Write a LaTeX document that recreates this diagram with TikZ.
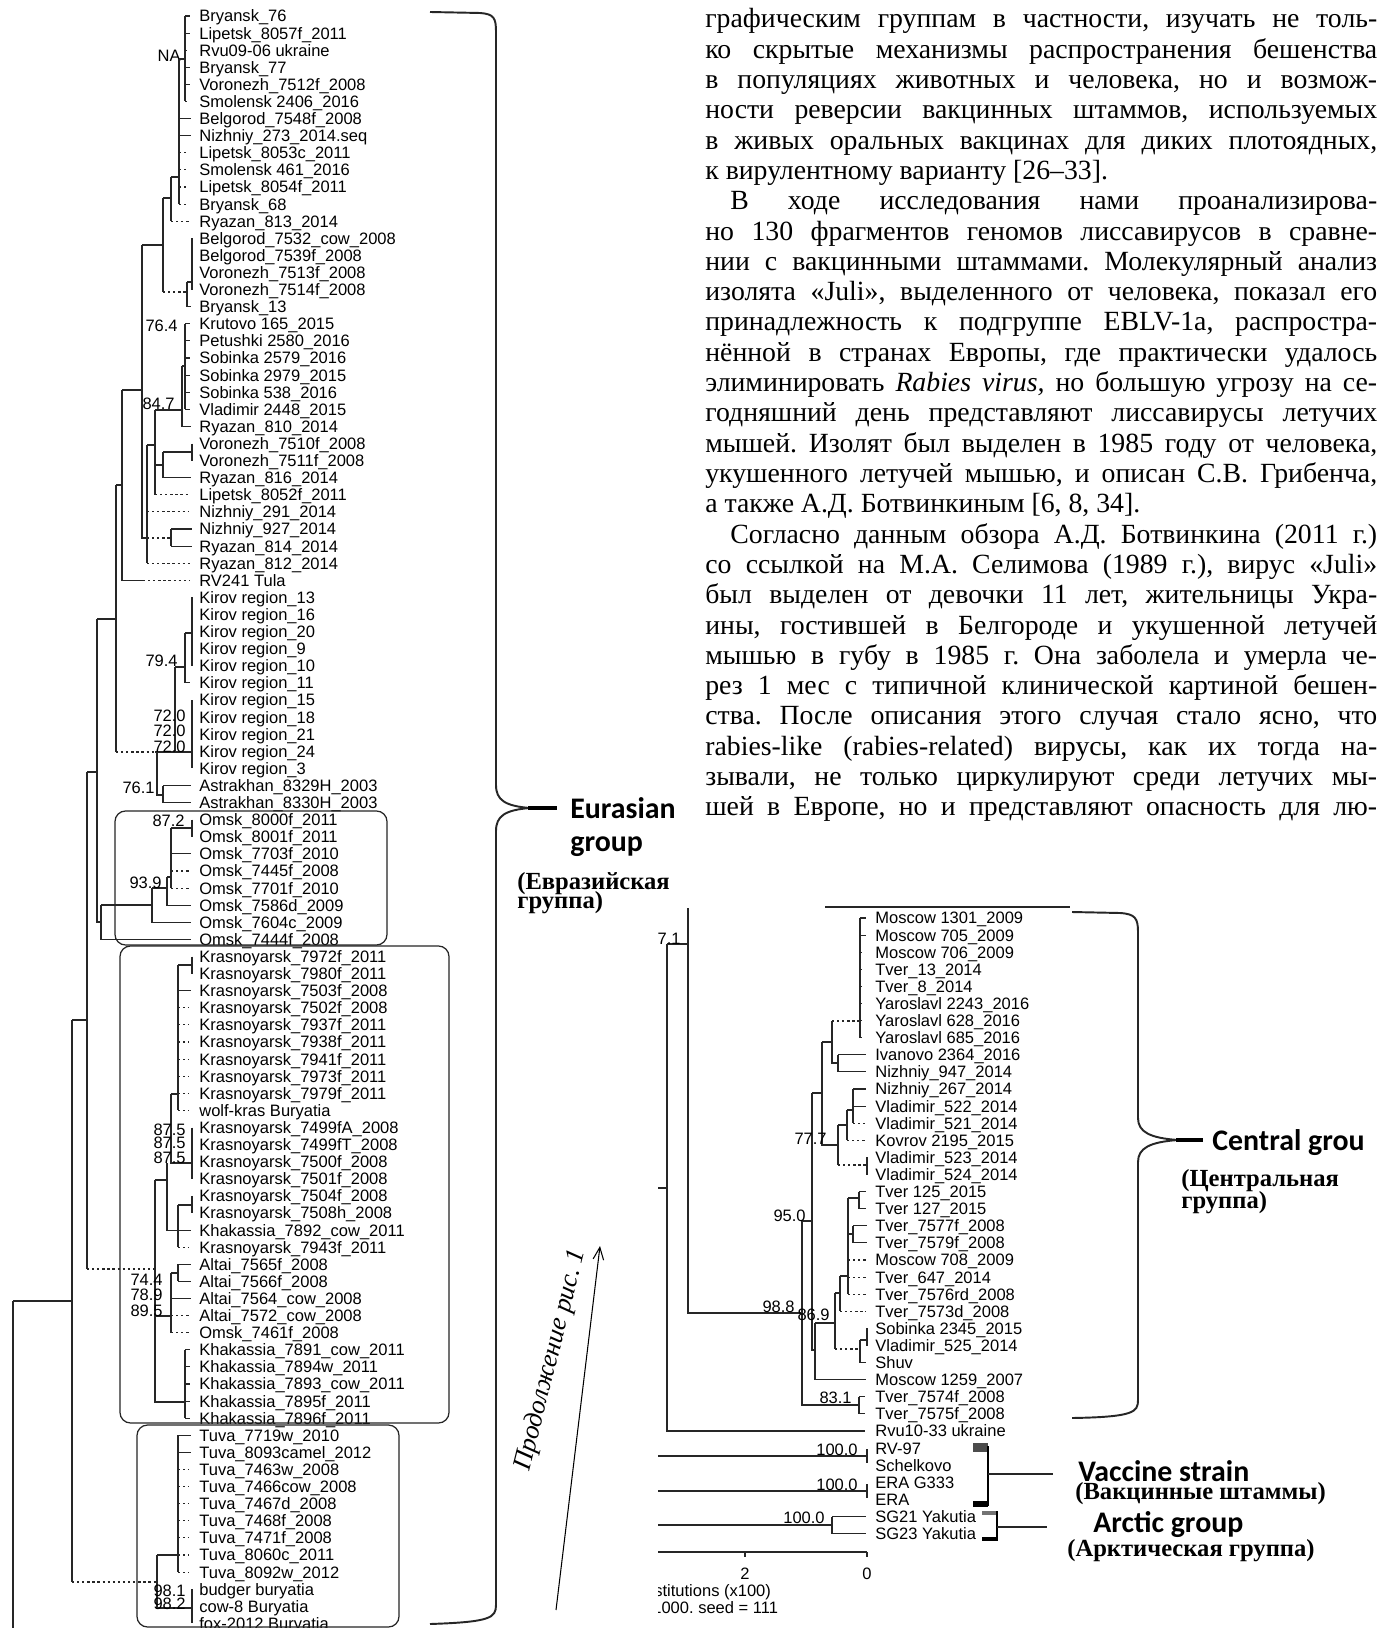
\documentclass[tikz,border=0pt]{standalone}
\usepackage{fontspec}
\setmainfont{Liberation Serif}
\newfontfamily\arialfam{Liberation Sans}
\newfontfamily\calibfam{Carlito}
\usetikzlibrary{arrows.meta}
\frenchspacing

\newcommand\leaffont{\arialfam\fontsize{9.4}{10}\selectfont}
% row positions of the two trees
\newcommand\ly[1]{16+(#1-1)*17.1}
\newcommand\ry[1]{918+(#1-1)*17.1}
% justified text line
\newcommand\jl[2][13.44cm]{\makebox[#1][s]{#2}}

\tikzset{
  br/.style={line width=0.6pt, black!85},
  dt/.style={br, dash pattern=on 1.3pt off 1.6pt},
  leaf/.style={anchor=base west, inner sep=0pt, yshift=-3.4pt, font=\leaffont},
  boot/.style={anchor=base east, inner sep=0pt, font=\leaffont},
  cladebox/.style={draw, black!85, line width=0.7pt, rounded corners=6pt},
  grp/.style={anchor=base west, inner sep=0pt, font=\calibfam\bfseries\fontsize{17}{18}\selectfont},
  grpru/.style={anchor=base west, inner sep=0pt, font=\bfseries\fontsize{14}{15}\selectfont},
  txtline/.style={anchor=base west, inner sep=0pt, font=\fontsize{15.8}{17}\selectfont},
  brace/.style={line width=1.1pt, black!85},
}

\begin{document}
\begin{tikzpicture}[x=0.02cm, y=-0.02cm]
  \fill[white] (0,0) rectangle (1377,1628);
  \useasboundingbox (0,0) rectangle (1377,1628);

  % ---------- left tree: leaves ----------
  \foreach \lab [count=\i] in {Bryansk\_76, Lipetsk\_8057f\_2011, Rvu09-06 ukraine, Bryansk\_77,
    Voronezh\_7512f\_2008, Smolensk 2406\_2016, Belgorod\_7548f\_2008, Nizhniy\_273\_2014.seq,
    Lipetsk\_8053c\_2011, Smolensk 461\_2016, Lipetsk\_8054f\_2011, Bryansk\_68, Ryazan\_813\_2014,
    Belgorod\_7532\_cow\_2008, Belgorod\_7539f\_2008, Voronezh\_7513f\_2008, Voronezh\_7514f\_2008,
    Bryansk\_13, Krutovo 165\_2015, Petushki 2580\_2016, Sobinka 2579\_2016, Sobinka 2979\_2015,
    Sobinka 538\_2016, Vladimir 2448\_2015, Ryazan\_810\_2014, Voronezh\_7510f\_2008,
    Voronezh\_7511f\_2008, Ryazan\_816\_2014, Lipetsk\_8052f\_2011, Nizhniy\_291\_2014,
    Nizhniy\_927\_2014, Ryazan\_814\_2014, Ryazan\_812\_2014, RV241 Tula, Kirov region\_13,
    Kirov region\_16, Kirov region\_20, Kirov region\_9, Kirov region\_10, Kirov region\_11,
    Kirov region\_15, Kirov region\_18, Kirov region\_21, Kirov region\_24, Kirov region\_3,
    Astrakhan\_8329H\_2003, Astrakhan\_8330H\_2003, Omsk\_8000f\_2011, Omsk\_8001f\_2011,
    Omsk\_7703f\_2010, Omsk\_7445f\_2008, Omsk\_7701f\_2010, Omsk\_7586d\_2009, Omsk\_7604c\_2009,
    Omsk\_7444f\_2008, Krasnoyarsk\_7972f\_2011, Krasnoyarsk\_7980f\_2011, Krasnoyarsk\_7503f\_2008,
    Krasnoyarsk\_7502f\_2008, Krasnoyarsk\_7937f\_2011, Krasnoyarsk\_7938f\_2011,
    Krasnoyarsk\_7941f\_2011, Krasnoyarsk\_7973f\_2011, Krasnoyarsk\_7979f\_2011, wolf-kras Buryatia,
    Krasnoyarsk\_7499fA\_2008, Krasnoyarsk\_7499fT\_2008, Krasnoyarsk\_7500f\_2008,
    Krasnoyarsk\_7501f\_2008, Krasnoyarsk\_7504f\_2008, Krasnoyarsk\_7508h\_2008,
    Khakassia\_7892\_cow\_2011, Krasnoyarsk\_7943f\_2011, Altai\_7565f\_2008, Altai\_7566f\_2008,
    Altai\_7564\_cow\_2008, Altai\_7572\_cow\_2008, Omsk\_7461f\_2008, Khakassia\_7891\_cow\_2011,
    Khakassia\_7894w\_2011, Khakassia\_7893\_cow\_2011, Khakassia\_7895f\_2011, Khakassia\_7896f\_2011,
    Tuva\_7719w\_2010, Tuva\_8093camel\_2012, Tuva\_7463w\_2008, Tuva\_7466cow\_2008, Tuva\_7467d\_2008,
    Tuva\_7468f\_2008, Tuva\_7471f\_2008, Tuva\_8060c\_2011, Tuva\_8092w\_2012, budger buryatia,
    cow-8 Buryatia, fox-2012 Buryatia}
    \node[leaf] (L\i) at (199,{\ly{\i}}) {\lab};

  % clade boxes
  \draw[cladebox] (115,811) rectangle (387,945);
  \draw[cladebox] (120,946) rectangle (449,1423);
  \draw[cladebox] (137,1425) rectangle (399,1627);

  % ---------- left tree: branches ----------
  % Bryansk / Lipetsk
  \draw[br] (185,{\ly{1}}) -- (185,{\ly{6}});
  \foreach \i in {1,2,4,5} \draw[br] (185,{\ly{\i}}) -- (190,{\ly{\i}});
  \foreach \i in {3,6} \draw[dt] (185,{\ly{\i}}) -- (190,{\ly{\i}});
  \node[boot] at (181,62) {NA};
  \draw[br] (179,59) -- (185,59);
  \draw[br] (179,59) -- (179,{\ly{12}});
  \foreach \i in {7,8} \draw[br] (179,{\ly{\i}}) -- (191,{\ly{\i}});
  \foreach \i in {9,...,12} \draw[dt] (179,{\ly{\i}}) -- (189,{\ly{\i}});
  \draw[br] (171,177) -- (179,177);
  \draw[br] (171,177) -- (171,{\ly{13}});
  \draw[dt] (171,{\ly{13}}) -- (189,{\ly{13}});
  \draw[br] (163,198) -- (171,198);
  \draw[br] (163,198) -- (163,292);
  \draw[dt] (163,292) -- (187,292);
  % Belgorod
  \draw[br] (192,{\ly{14}}) -- (192,{\ly{17}});
  \draw[br] (187,282) -- (192,282);
  \draw[br] (187,282) -- (187,{\ly{18}}) -- (191,{\ly{18}});
  \draw[br] (142,245) -- (163,245);
  \draw[br] (142,245) -- (142,538) -- (147,538);
  % Krutovo / Sobinka
  \draw[br] (185,{\ly{19}}) -- (185,{\ly{24}});
  \foreach \i in {19,...,24} \draw[br] (185,{\ly{\i}}) -- (190,{\ly{\i}});
  \node[boot] at (178,332) {76.4};
  \draw[br] (182,366) -- (185,366);
  \draw[br] (182,366) -- (182,{\ly{25}}) -- (191,{\ly{25}});
  \draw[br] (155,410) -- (182,410);
  \node[boot] at (175,410) {84.7};
  \draw[br] (155,410) -- (155,{\ly{29}});
  \draw[dt] (155,{\ly{29}}) -- (189,{\ly{29}});
  \draw[br] (155,465) -- (163,465);
  \draw[br] (163,452) -- (163,{\ly{28}}) -- (191,{\ly{28}});
  \draw[br] (163,452) -- (192,452);
  \draw[br] (192,{\ly{26}}) -- (192,{\ly{27}});
  \draw[br] (147,445) -- (155,445);
  \draw[br] (147,445) -- (147,{\ly{33}});
  \draw[dt] (147,{\ly{30}}) -- (189,{\ly{30}});
  \draw[dt] (147,538) -- (171,538);
  \draw[br] (171,{\ly{31}}) -- (171,{\ly{32}});
  \foreach \i in {31,32} \draw[br] (171,{\ly{\i}}) -- (192,{\ly{\i}});
  \draw[dt] (147,{\ly{33}}) -- (191,{\ly{33}});
  \draw[br] (122,390) -- (142,390);
  \draw[br] (122,390) -- (122,{\ly{34}}) -- (143,{\ly{34}});
  \draw[dt] (143,{\ly{34}}) -- (189,{\ly{34}});
  \draw[br] (116,485) -- (122,485);
  \draw[br] (116,485) -- (116,752);
  % Kirov / Astrakhan
  \draw[br] (192,{\ly{35}}) -- (192,{\ly{39}});
  \draw[br] (185,633) -- (192,633);
  \draw[br] (185,633) -- (185,{\ly{40}}) -- (190,{\ly{40}});
  \draw[br] (175,667) -- (185,667);
  \node[boot] at (178,666) {79.4};
  \draw[br] (175,667) -- (175,752);
  \draw[br] (192,{\ly{41}}) -- (192,{\ly{45}});
  \draw[dt] (116,752) -- (155,752);
  \draw[br] (155,752) -- (192,752);
  \foreach \yy in {721,736,752} \node[boot] at (186,\yy) {72.0};
  \draw[br] (157,752) -- (157,795) -- (163,795);
  \draw[br] (163,{\ly{46}}) -- (163,{\ly{47}});
  \foreach \i in {46,47} \draw[br] (163,{\ly{\i}}) -- (191,{\ly{\i}});
  \node[boot] at (155,793) {76.1};
  \draw[br] (97,619) -- (116,619);
  \draw[br] (97,619) -- (97,922) -- (101,922);
  % Omsk
  \draw[br] (192,{\ly{48}}) -- (192,{\ly{49}});
  \draw[br] (171,828) -- (192,828);
  \node[boot] at (185,826) {87.2};
  \draw[br] (171,828) -- (171,{\ly{52}});
  \draw[br] (171,{\ly{50}}) -- (191,{\ly{50}});
  \foreach \i in {51,52} \draw[dt] (171,{\ly{\i}}) -- (189,{\ly{\i}});
  \draw[br] (167,877) -- (171,877);
  \draw[br] (167,877) -- (167,{\ly{53}}) -- (191,{\ly{53}});
  \draw[br] (152,888) -- (167,888);
  \node[boot] at (162,888) {93.9};
  \draw[br] (152,888) -- (152,{\ly{54}}) -- (191,{\ly{54}});
  \draw[br] (101,905) -- (152,905);
  \draw[br] (101,905) -- (101,{\ly{55}}) -- (191,{\ly{55}});
  \draw[br] (87,772) -- (97,772);
  \draw[br] (87,772) -- (87,1269);
  % Krasnoyarsk
  \draw[br] (192,{\ly{56}}) -- (192,{\ly{57}});
  \draw[br] (178,965) -- (192,965);
  \draw[br] (178,965) -- (178,{\ly{65}});
  \draw[br] (178,{\ly{58}}) -- (191,{\ly{58}});
  \foreach \i in {59,...,65} \draw[dt] (178,{\ly{\i}}) -- (189,{\ly{\i}});
  \draw[br] (171,1094) -- (178,1094);
  \draw[br] (171,1094) -- (171,1163) -- (192,1163);
  \draw[br] (192,{\ly{66}}) -- (192,{\ly{69}});
  \foreach \yy in {1135,1148,1163} \node[boot] at (186,\yy) {87.5};
  \draw[br] (167,1163) -- (167,{\ly{72}}) -- (191,{\ly{72}});
  \draw[br] (192,{\ly{70}}) -- (192,{\ly{71}});
  \draw[br] (178,1205) -- (192,1205);
  \draw[br] (178,1205) -- (178,{\ly{73}});
  \draw[dt] (178,{\ly{73}}) -- (189,{\ly{73}});
  \draw[br] (155,1180) -- (167,1180);
  \draw[br] (155,1180) -- (155,1402) -- (185,1402);
  \draw[dt] (87,1269) -- (155,1269);
  % Altai
  \draw[br] (178,{\ly{74}}) -- (178,{\ly{75}});
  \foreach \i in {74,75} \draw[br] (178,{\ly{\i}}) -- (191,{\ly{\i}});
  \draw[br] (171,1273) -- (178,1273);
  \draw[br] (171,1273) -- (171,{\ly{78}});
  \draw[br] (171,{\ly{76}}) -- (191,{\ly{76}});
  \foreach \i in {77,78} \draw[dt] (171,{\ly{\i}}) -- (189,{\ly{\i}});
  \draw[br] (155,1316) -- (171,1316);
  \node[boot] at (163,1285) {74.4};
  \node[boot] at (163,1300) {78.9};
  \node[boot] at (163,1316) {89.5};
  % Khakassia
  \draw[br] (185,{\ly{79}}) -- (185,{\ly{83}});
  \foreach \i in {79,...,83} \draw[br] (185,{\ly{\i}}) -- (190,{\ly{\i}});
  \draw[br] (72,1020) -- (87,1020);
  \draw[br] (72,1020) -- (72,1582);
  % Tuva / Buryatia
  \draw[br] (178,{\ly{84}}) -- (178,{\ly{92}});
  \foreach \i in {84,85} \draw[br] (178,{\ly{\i}}) -- (191,{\ly{\i}});
  \foreach \i in {86,...,92} \draw[dt] (178,{\ly{\i}}) -- (189,{\ly{\i}});
  \draw[br] (157,1555) -- (178,1555);
  \draw[br] (157,1555) -- (157,1608) -- (192,1608);
  \draw[br] (192,{\ly{93}}) -- (192,{\ly{95}});
  \node[boot] at (186,1596) {98.1};
  \node[boot] at (186,1609) {98.2};
  \draw[dt] (72,1582) -- (157,1582);
  % root
  \draw[br] (13,1301) -- (72,1301);
  \draw[br] (13,1301) -- (13,1628);

  % Eurasian brace
  \draw[brace] (430,12) -- (480,13) .. controls (494,14) and (496,18) .. (496,32)
    -- (496,785) .. controls (496,800) and (505,806) .. (530,808)
    .. controls (505,810) and (496,816) .. (496,831)
    -- (496,1605) .. controls (496,1618) and (490,1622) .. (430,1624);
  \draw[line width=2pt] (528,808) -- (557,808);
  \node[grp] (eur) at (570,818) {Eurasian};
  \node[grp] (eurg) at (570,851) {group};
  \node[grpru] (eurru) at (517,889) {(Евразийская};
  \node[grpru] (eurru2) at (517,908) {группа)};

  % continuation arrow
  \coordinate (arrS) at (556,1610);
  \coordinate (arrE) at (600,1246);
  \draw[line width=0.6pt, -{Straight Barb[length=7pt, width=6pt]}] (arrS) -- (arrE);
  \node[font=\itshape\fontsize{15}{16}\selectfont, rotate=76, inner sep=0pt] (cont) at (551,1360) {Продолжение рис. 1};

  % ---------- right tree: leaves ----------
  \foreach \lab [count=\i] in {Moscow 1301\_2009, Moscow 705\_2009, Moscow 706\_2009, Tver\_13\_2014,
    Tver\_8\_2014, Yaroslavl 2243\_2016, Yaroslavl 628\_2016, Yaroslavl 685\_2016, Ivanovo 2364\_2016,
    Nizhniy\_947\_2014, Nizhniy\_267\_2014, Vladimir\_522\_2014, Vladimir\_521\_2014, Kovrov 2195\_2015,
    Vladimir\_523\_2014, Vladimir\_524\_2014, Tver 125\_2015, Tver 127\_2015, Tver\_7577f\_2008,
    Tver\_7579f\_2008, Moscow 708\_2009, Tver\_647\_2014, Tver\_7576rd\_2008, Tver\_7573d\_2008,
    Sobinka 2345\_2015, Vladimir\_525\_2014, Shuv, Moscow 1259\_2007, Tver\_7574f\_2008,
    Tver\_7575f\_2008, Rvu10-33 ukraine, RV-97, Schelkovo, ERA G333, ERA, SG21 Yakutia, SG23 Yakutia}
    \node[leaf] (R\i) at (875,{\ry{\i}}) {\lab};

  % ---------- right tree: branches ----------
  \draw[br] (825,907) -- (1070,907);
  \draw[br] (688,908) -- (688,1313) -- (802,1313);
  \draw[br] (667,944) -- (688,944);
  \node[boot] at (681,944) {7.1};
  \draw[br] (658,1188) -- (667,1188);
  \draw[br] (667,944) -- (667,1431) -- (865,1431);
  \node[boot] at (795,1312) {98.8};
  \draw[br] (802,1221) -- (802,1405) -- (859,1405);
  \draw[br] (802,1221) -- (812,1221);
  \node[boot] at (806,1221) {95.0};
  \draw[br] (859,{\ry{29}}) -- (859,{\ry{30}});
  \foreach \i in {29,30} \draw[br] (859,{\ry{\i}}) -- (865,{\ry{\i}});
  \node[boot] at (852,1403) {83.1};
  \draw[br] (812,1093) -- (812,1350) -- (815,1350);
  \draw[br] (812,1093) -- (822,1093);
  % Moscow / Yaroslavl
  \draw[br] (822,1042) -- (822,1145) -- (838,1145);
  \draw[br] (822,1042) -- (832,1042);
  \draw[br] (832,1021) -- (832,1063) -- (838,1063);
  \draw[br] (838,{\ry{9}}) -- (838,{\ry{10}});
  \foreach \i in {9,10} \draw[br] (838,{\ry{\i}}) -- (866,{\ry{\i}});
  \draw[dt] (832,1021) -- (860,1021);
  \draw[br] (860,{\ry{1}}) -- (860,{\ry{8}});
  \foreach \i in {1,2} \draw[br] (860,{\ry{\i}}) -- (866,{\ry{\i}});
  \foreach \i in {3,...,8} \draw[br] (860,{\ry{\i}}) -- (862,{\ry{\i}});
  % Vladimir / Kovrov
  \node[boot] at (827,1144) {77.7};
  \draw[br] (838,1125) -- (838,1165);
  \draw[br] (838,1125) -- (847,1125);
  \draw[br] (847,1110) -- (847,{\ry{14}});
  \draw[dt] (847,{\ry{14}}) -- (866,{\ry{14}});
  \draw[br] (847,1110) -- (853,1110);
  \draw[br] (853,{\ry{11}}) -- (853,{\ry{13}});
  \foreach \i in {11,12} \draw[br] (853,{\ry{\i}}) -- (866,{\ry{\i}});
  \draw[dt] (853,{\ry{13}}) -- (866,{\ry{13}});
  \draw[dt] (838,1165) -- (867,1165);
  \draw[br] (867,{\ry{15}}) -- (867,{\ry{16}});
  % Tver
  \draw[br] (815,1323) -- (815,{\ry{28}}) -- (866,{\ry{28}});
  \node[boot] at (830,1320) {86.9};
  \draw[br] (815,1323) -- (835,1323);
  \draw[br] (835,1293) -- (835,1349);
  \draw[br] (835,1293) -- (840,1293);
  \draw[dt] (835,1349) -- (860,1349);
  \draw[br] (860,1340) -- (860,{\ry{27}}) -- (866,{\ry{27}});
  \draw[br] (860,1340) -- (867,1340);
  \draw[br] (867,{\ry{25}}) -- (867,{\ry{26}});
  \draw[br] (840,1276) -- (840,{\ry{24}});
  \draw[dt] (840,{\ry{24}}) -- (866,{\ry{24}});
  \draw[br] (840,1276) -- (848,1276);
  \draw[br] (848,1198) -- (848,{\ry{23}});
  \foreach \i in {21,22,23} \draw[dt] (848,{\ry{\i}}) -- (866,{\ry{\i}});
  \draw[br] (848,1198) -- (859,1198);
  \draw[br] (859,{\ry{17}}) -- (859,{\ry{18}});
  \foreach \i in {17,18} \draw[br] (859,{\ry{\i}}) -- (866,{\ry{\i}});
  \draw[br] (848,1234) -- (853,1234);
  \draw[br] (853,{\ry{19}}) -- (853,{\ry{20}});
  \foreach \i in {19,20} \draw[br] (853,{\ry{\i}}) -- (867,{\ry{\i}});
  % vaccine and arctic strains
  \draw[br] (658,1456) -- (867,1456);
  \draw[br] (867,1449) -- (867,1463);
  \node[boot] at (858,1455) {100.0};
  \draw[br] (658,1491) -- (867,1491);
  \draw[br] (867,1484) -- (867,1498);
  \node[boot] at (858,1490) {100.0};
  \draw[br] (658,1525) -- (832,1525);
  \draw[br] (832,{\ry{36}}) -- (832,{\ry{37}});
  \foreach \i in {36,37} \draw[br] (832,{\ry{\i}}) -- (866,{\ry{\i}});
  \node[boot] at (825,1523) {100.0};
  % scale axis
  \draw[br] (658,1552) -- (867,1552);
  \draw[br] (745,1552) -- (745,1557);
  \draw[br] (867,1552) -- (867,1557);
  \node[anchor=base, inner sep=0pt, font=\leaffont] (ax2) at (745,1579) {2};
  \node[anchor=base, inner sep=0pt, font=\leaffont] (ax0) at (867,1579) {0};
  \begin{scope}
    \clip (658,1580) rectangle (950,1625);
    \node[anchor=base west, inner sep=0pt, font=\leaffont] (ax3) at (654,1596) {stitutions (x100)};
    \node[anchor=base west, inner sep=0pt, font=\leaffont] (ax4) at (652,1613) {1000. seed = 111};
  \end{scope}

  % Central brace
  \draw[brace] (1072,912) -- (1120,913) .. controls (1135,914) and (1138,918) .. (1138,932)
    -- (1138,1118) .. controls (1138,1132) and (1150,1138) .. (1178,1140)
    .. controls (1150,1142) and (1138,1148) .. (1138,1162)
    -- (1138,1400) .. controls (1138,1412) and (1134,1417) .. (1072,1418);
  \draw[line width=2pt] (1176,1140) -- (1203,1140);
  \node[grp] (cen) at (1212,1150) {Central grou};
  \node[grpru] (cenru) at (1181,1186) {(Центральная};
  \node[grpru] (cenru2) at (1181,1208) {группа)};

  % vaccine bracket
  \fill[black!70] (973,1443) rectangle (988,1452);
  \draw[line width=1.3pt] (988,1446) -- (988,1506);
  \fill[black] (973,1501) rectangle (988,1507);
  \coordinate (vacc) at (1053,1474);
  \draw[br] (988,1474) -- (vacc);
  \node[grp] (vac) at (1078,1481) {Vaccine strain};
  \node[grpru] (vacru) at (1075,1499) {(Вакцинные штаммы)};
  % arctic bracket
  \fill[black!55] (982,1511) rectangle (997,1515);
  \draw[line width=1.1pt] (997,1511) -- (997,1541);
  \fill[black] (982,1537) rectangle (997,1541);
  \coordinate (arcc) at (1047,1527);
  \draw[br] (997,1527) -- (arcc);
  \node[grp] (arc) at (1093,1532) {Arctic group};
  \node[grpru] (arcru) at (1067,1556) {(Арктическая группа)};

  % ---------- article text ----------
  \node[txtline] (t1) at (705,28) {\jl{графическим группам в частности, изучать не толь-}};
  \node[txtline] (t2) at (705,58.3) {\jl{ко скрытые механизмы распространения бешенства}};
  \node[txtline] (t3) at (705,88.6) {\jl{в популяциях животных и человека, но и возмож-}};
  \node[txtline] (t4) at (705,118.9) {\jl{ности реверсии вакцинных штаммов, используемых}};
  \node[txtline] (t5) at (705,149.2) {\jl{в живых оральных вакцинах для диких плотоядных,}};
  \node[txtline] (t6) at (705,179.5) {к вирулентному варианту [26–33].};
  \node[txtline] (t7) at (730,209.8) {\jl[12.94cm]{В ходе исследования нами проанализирова-}};
  \node[txtline] (t8) at (705,240.1) {\jl{но 130 фрагментов геномов лиссавирусов в сравне-}};
  \node[txtline] (t9) at (705,270.4) {\jl{нии с вакцинными штаммами. Молекулярный анализ}};
  \node[txtline] (t10) at (705,300.7) {\jl{изолята «Juli», выделенного от человека, показал его}};
  \node[txtline] (t11) at (705,331) {\jl{принадлежность к подгруппе EBLV-1a, распростра-}};
  \node[txtline] (t12) at (705,361.3) {\jl{нённой в странах Европы, где практически удалось}};
  \node[txtline] (t13) at (705,391.6) {\jl{элиминировать \textit{Rabies virus,} но большую угрозу на се-}};
  \node[txtline] (t14) at (705,421.9) {\jl{годняшний день представляют лиссавирусы летучих}};
  \node[txtline] (t15) at (705,452.2) {\jl{мышей. Изолят был выделен в 1985 году от человека,}};
  \node[txtline] (t16) at (705,482.5) {\jl{укушенного летучей мышью, и описан С.В. Грибенча,}};
  \node[txtline] (t17) at (705,512.8) {а также А.Д. Ботвинкиным [6, 8, 34].};
  \node[txtline] (t18) at (730,543.1) {\jl[12.94cm]{Согласно данным обзора А.Д. Ботвинкина (2011 г.)}};
  \node[txtline] (t19) at (705,573.4) {\jl{со ссылкой на М.А. Селимова (1989 г.), вирус «Juli»}};
  \node[txtline] (t20) at (705,603.7) {\jl{был выделен от девочки 11 лет, жительницы Укра-}};
  \node[txtline] (t21) at (705,634) {\jl{ины, гостившей в Белгороде и укушенной летучей}};
  \node[txtline] (t22) at (705,664.3) {\jl{мышью в губу в 1985 г. Она заболела и умерла че-}};
  \node[txtline] (t23) at (705,694.6) {\jl{рез 1 мес с типичной клинической картиной бешен-}};
  \node[txtline] (t24) at (705,724.9) {\jl{ства. После описания этого случая стало ясно, что}};
  \node[txtline] (t25) at (705,755.2) {\jl{rabies-like (rabies-related) вирусы, как их тогда на-}};
  \node[txtline] (t26) at (705,785.5) {\jl{зывали, не только циркулируют среди летучих мы-}};
  \node[txtline] (t27) at (705,815.8) {\jl{шей в Европе, но и представляют опасность для лю-}};
\end{tikzpicture}
\end{document}
